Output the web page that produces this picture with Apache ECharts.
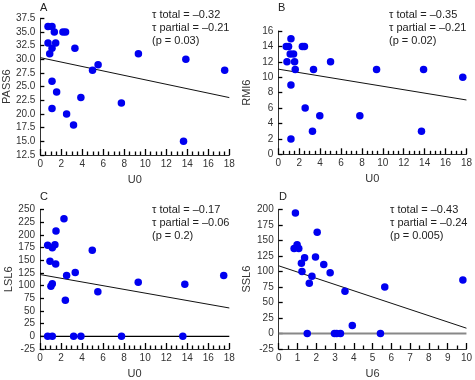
<!DOCTYPE html>
<html>
<head>
<meta charset="utf-8">
<script src="https://cdn.jsdelivr.net/npm/echarts@6/dist/echarts.min.js"></script>
<style>html,body{margin:0;padding:0;background:#fff}#c{width:475px;height:380px}</style>
</head>
<body>
<div id="c"></div>
<script>
// Panel A: PASS6 vs U0
var aX = [0.73,1.11,1.33,2.15,2.4,0.73,1.46,1.11,0.89,3.29,9.34,13.86,17.56,5.5,4.97,1.11,1.55,3.86,7.72,1.11,2.5,3.16,13.64];
var aY = [36,36,35,35,35,33,33,32,31,32,31,30,28,29,28,26,24,23,22,21,20,18,15];
var aTrendX = [0,18];
var aTrendY = [30.3,23.0];
// Panel B: RMI6 vs U0
var bX = [0.76,0.98,1.21,1.14,1.46,0.83,1.56,1.62,1.21,2.3,2.5,3.37,5.0,9.4,13.9,17.65,2.57,3.97,7.8,3.27,13.7,1.21];
var bY = [14,14,15,13,13,12,12,11,9,14,14,11,12,11,11,10,6,5,5,3,3,2];
var bTrendX = [0,18];
var bTrendY = [11.05,7.05];
// Panel C: LSL6 vs U0
var cX = [0.73,0.95,1.17,1.42,1.52,1.49,2.28,1.04,1.17,2.53,3.35,2.41,4.97,5.5,9.34,13.77,17.47,0.73,1.17,3.2,3.89,7.75,13.58];
var cY = [180,148,175,181,208,143,232,99,104,120,126,71,170,88,107,103,120,0,0,0,0,0,0];
var cTrendX = [0,18];
var cTrendY = [122,56];
// Panel D: SSL6 vs U6
var dX = [0.89,0.82,0.98,0.98,1.07,1.21,1.38,1.24,1.63,1.77,1.96,2.05,2.4,2.74,3.53,5.65,9.81,3.92,1.52,2.97,3.09,3.29,5.42];
var dY = [194,137,143,139,137,113,122,100,81,92,123,163,111,98,68,75,86,13,0,0,0,0,0];
var dTrendX = [0,10];
var dTrendY = [109,8.5];
// Axis settings (ticks)
var xMaxU0 = 18, xIntU0 = 2;
var xMaxU6 = 10, xIntU6 = 1;
var yA = {min:12.5, max:37.5, interval:2.5};
var yB = {min:0, max:16, interval:2};
var yC = {min:-25, max:250, interval:25};
var yD = {min:-25, max:200, interval:25};
var panels = ['A','B','C','D'];
var yNames = ['PASS6','RMI6','LSL6','SSL6'];
var xNames = ['U0','U0','U0','U6'];
var tauTotal = ['0.32','0.35','0.17','0.43'];
var tauPartial = ['0.21','0.21','0.06','0.24'];
var pVals = ['0.03','0.02','0.2','0.005'];

var FONT = 'Liberation Sans';
var AX = '#333';
var grids = [
  {left:40, top:18.3, width:189.3, height:136.7},
  {left:278.3, top:31, width:188.7, height:123.3},
  {left:40, top:209.7, width:189.3, height:141},
  {left:278.7, top:209.3, width:190.6, height:141.4}
];
function zip(xs, ys){ return xs.map(function(x,i){return [x, ys[i]];}); }
function xAxis(i, max, interval, split){
  return {
    gridIndex:i, type:'value', min:0, max:max, interval:interval,
    name:xNames[i], nameLocation:'middle', nameGap:19,
    nameTextStyle:{fontFamily:FONT, fontSize:11, color:'#333'},
    axisLine:{show:true, onZero:false, lineStyle:{color:AX}},
    axisTick:{show:true, inside:true, length:6, lineStyle:{color:'#000', width:1.3}},
    minorTick:{show:true, splitNumber:split, length:3.5, lineStyle:{color:'#000', width:1.3}},
    axisLabel:{fontFamily:FONT, fontSize:10, color:'#333', margin:4},
    splitLine:{show:false}
  };
}
function yAxis(i, cfg, dec){
  return {
    gridIndex:i, type:'value', min:cfg.min, max:cfg.max, interval:cfg.interval,
    name:yNames[i], nameLocation:'middle', nameGap:26, nameRotate:90,
    nameTextStyle:{fontFamily:FONT, fontSize:11, color:'#333'},
    axisLine:{show:true, onZero:false, lineStyle:{color:AX}},
    axisTick:{show:true, inside:true, length:4, lineStyle:{color:'#000', width:1.3}},
    axisLabel:{fontFamily:FONT, fontSize:10, color:'#333', margin:5,
      formatter: function(v){ return dec ? v.toFixed(1) : String(v); }},
    splitLine:{show:false}
  };
}
var xAxes = [xAxis(0,xMaxU0,xIntU0,4), xAxis(1,xMaxU0,xIntU0,4), xAxis(2,xMaxU0,xIntU0,4), xAxis(3,xMaxU6,xIntU6,2)];
var yAxes = [yAxis(0,yA,true), yAxis(1,yB,false), yAxis(2,yC,false), yAxis(3,yD,false)];

var scatterData = [zip(aX,aY), zip(bX,bY), zip(cX,cY), zip(dX,dY)];
var trendData = [zip(aTrendX,aTrendY), zip(bTrendX,bTrendY), zip(cTrendX,cTrendY), zip(dTrendX,dTrendY)];
var series = [];
series.push({type:'line', xAxisIndex:2, yAxisIndex:2, data:[[0,0],[xMaxU0,0]], symbol:'none', silent:true, lineStyle:{color:'#000', width:1.2}, z:1});
series.push({type:'line', xAxisIndex:3, yAxisIndex:3, data:[[0,0],[xMaxU6,0]], symbol:'none', silent:true, lineStyle:{color:'#888', width:2}, z:1});
for (var i=0;i<4;i++){
  series.push({type:'line', xAxisIndex:i, yAxisIndex:i, data:trendData[i], symbol:'none', silent:true, lineStyle:{color:'#111', width:1}, z:2});
  series.push({type:'scatter', xAxisIndex:i, yAxisIndex:i, data:scatterData[i], symbolSize:7.5, itemStyle:{color:'#0000f0', opacity:1}, z:3});
}

var graphics = [];
var letterPos = [[40,2],[278,2],[40,191],[279,191]];
var textPos = [[152,8],[389,8],[152,203],[390,203]];
for (var j=0;j<4;j++){
  graphics.push({type:'text', left:letterPos[j][0], top:letterPos[j][1], style:{text:panels[j], font:'11px '+FONT, fill:'#222'}});
  graphics.push({type:'text', left:textPos[j][0], top:textPos[j][1], style:{
    text:'\u03c4 total = \u2013' + tauTotal[j] + '\n\u03c4 partial = \u2013' + tauPartial[j] + '\n(p = ' + pVals[j] + ')',
    font:'11px '+FONT, fill:'#222', lineHeight:13}});
}

var chart = echarts.init(document.getElementById('c'), null, {renderer:'canvas'});
chart.setOption({
  animation:false,
  backgroundColor:'#fff',
  grid:grids,
  xAxis:xAxes, yAxis:yAxes, series:series, graphic:graphics
});
</script>
</body>
</html>
